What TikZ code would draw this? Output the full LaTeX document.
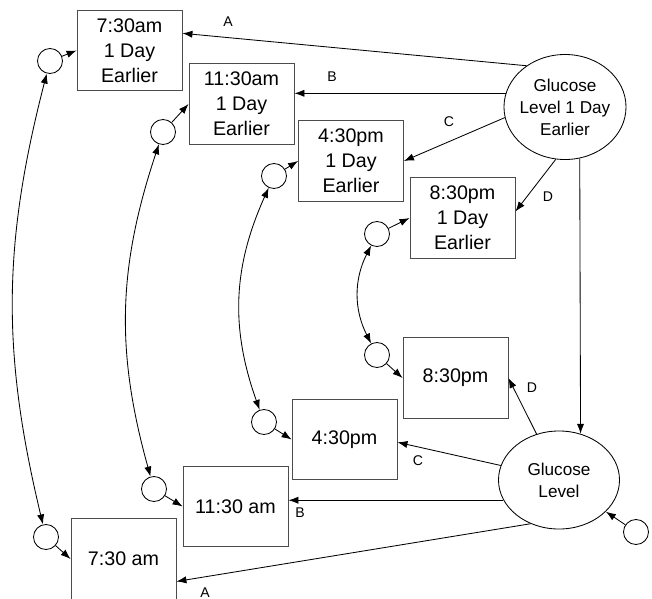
\documentclass[tikz,border=0pt]{standalone}
\usepackage{fontspec}
\setmainfont{Liberation Sans}
\usetikzlibrary{arrows.meta,shapes.geometric}

\begin{document}
\begin{tikzpicture}[
    x=0.025cm, y=-0.025cm,
    every node/.style={font=\fontsize{14}{17.8}\selectfont},
    timebox/.style={rectangle, draw=black!70, line width=0.6pt, minimum width=2.625cm,
                    minimum height=2.02cm, align=center, inner sep=0pt},
    latent/.style={ellipse, draw, line width=0.6pt, align=center, inner sep=0pt,
                   inner xsep=-2pt, font=\fontsize{12.2}{15.6}\selectfont},
    errcirc/.style={circle, draw, line width=0.6pt, minimum size=0.625cm, inner sep=0pt},
    pathlbl/.style={font=\fontsize{10}{12}\selectfont},
    arrow/.style={-{Latex[length=2.5mm,width=1.8mm]}, line width=0.6pt},
    covar/.style={{Latex[length=2.5mm,width=1.8mm]}-{Latex[length=2.5mm,width=1.8mm]}, line width=0.6pt},
]
\useasboundingbox (0,0) rectangle (652,599);
\node[timebox] (prev730) at (129.5,50.5) {7:30am\\1 Day\\Earlier};
\node[timebox] (prev1130) at (241.5,104) {11:30am\\1 Day\\Earlier};
\node[timebox] (prev430) at (351,161) {4:30pm\\1 Day\\Earlier};
\node[timebox] (prev830) at (462.5,218) {8:30pm\\1 Day\\Earlier};
\node[timebox] (now830) at (455.5,378) {8:30pm};
\node[timebox] (now430) at (344.5,439.5) {4:30pm};
\node[timebox] (now1130) at (235.5,506.5) {11:30 am};
\node[timebox] (now730) at (123.5,559) {7:30 am};
\node[latent, minimum width=3.05cm, minimum height=2.625cm] (gprev) at (565,107) {Glucose\\Level 1 Day\\Earlier};
\node[latent, minimum width=3.025cm, minimum height=2.45cm] (gnow) at (559,480) {Glucose\\Level};
\node[errcirc] (dprev730) at (50,61) {};
\node[errcirc] (dprev1130) at (163,132) {};
\node[errcirc] (dprev430) at (274,176) {};
\node[errcirc] (dprev830) at (377,234) {};
\node[errcirc] (dnow830) at (377,355) {};
\node[errcirc] (dnow430) at (264,422) {};
\node[errcirc] (dnow1130) at (154,489) {};
\node[errcirc] (dnow730) at (46,537) {};
\node[errcirc] (dgnow) at (636,532) {};
\node[pathlbl] (labAprev) at (228,22) {A};
\node[pathlbl] (labBprev) at (332,77) {B};
\node[pathlbl] (labCprev) at (449,122) {C};
\node[pathlbl] (labDprev) at (548,197) {D};
\node[pathlbl] (labDnow) at (532,388) {D};
\node[pathlbl] (labCnow) at (418,461) {C};
\node[pathlbl] (labBnow) at (300,513) {B};
\node[pathlbl] (labAnow) at (205,593) {A};
\draw[arrow] (gprev.133) -- (prev730.18);
\draw[arrow] (gprev.167) -- (gprev.167 -| prev1130.east);
\draw[arrow] (gprev.190) -- (prev430.east);
\draw[arrow] (gprev.260) -- (prev830.7);
\draw[arrow] (gprev.-74) -- (gnow.65);
\draw[arrow] (gnow.237) -- (now730.-23);
\draw[arrow] (gnow.200) -- (gnow.200 -| now1130.east);
\draw[arrow] (gnow.166) -- (now430.-3);
\draw[arrow] (gnow.116) -- (now830.east);
\draw[arrow] (dgnow) -- (gnow);
\draw[arrow] (dprev730) -- (prev730.west);
\draw[arrow] (dprev1130) -- (prev1130.west);
\draw[arrow] (dprev430) -- (prev430.west);
\draw[arrow] (dprev830) -- (prev830.west);
\draw[arrow] (dnow830) -- (now830.west);
\draw[arrow] (dnow430) -- (now430.west);
\draw[arrow] (dnow1130) -- (now1130.west);
\draw[arrow] (dnow730) -- (now730.west);
\draw[covar] (dprev730) to[bend right=14] (dnow730);
\draw[covar] (dprev1130) to[bend right=17] (dnow1130);
\draw[covar] (dprev430) to[bend right=22] (dnow430);
\draw[covar] (dprev830) to[bend right=27] (dnow830);
\end{tikzpicture}
\end{document}
